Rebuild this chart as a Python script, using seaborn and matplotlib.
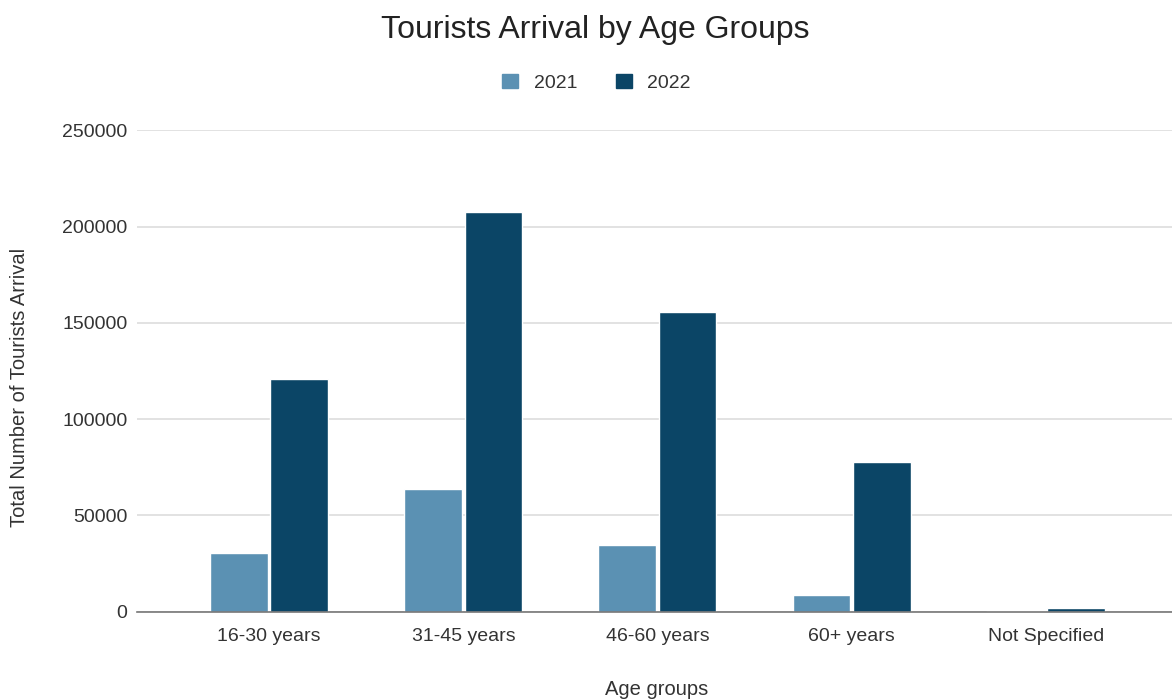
import matplotlib
matplotlib.use("Agg")
import matplotlib.pyplot as plt
import seaborn as sns
import pandas as pd
from matplotlib.patches import Patch

categories = ["16-30 years", "31-45 years", "46-60 years", "60+ years", "Not Specified"]
values_2021 = [30600, 63800, 34800, 8800, 500]
values_2022 = [120900, 207600, 155800, 77900, 2000]
years = ["2021", "2022"]
colors = ["#5b91b3", "#0b4566"]

df = pd.DataFrame({
    "Age groups": categories * 2,
    "value": values_2021 + values_2022,
    "year": [years[0]] * len(categories) + [years[1]] * len(categories),
})

sns.set_theme(style="white")
plt.rcParams["font.family"] = ["Liberation Sans", "DejaVu Sans"]

fig = plt.figure(figsize=(11.72, 7.0), dpi=100)
ax = fig.add_axes([0.117, 0.126, 0.883, 0.688])

sns.barplot(data=df, x="Age groups", y="value", hue="year", palette=colors,
            width=0.62, gap=0.04, ax=ax, legend=False, saturation=1)

ax.set_xlim(-0.68, 4.65)
ax.set_ylim(0, 250000)
ax.set_yticks([0, 50000, 100000, 150000, 200000, 250000])
ax.set_yticklabels(["0", "50000", "100000", "150000", "200000", "250000"])
ax.yaxis.grid(True, color="#dddddd", linewidth=1.2)
ax.set_axisbelow(True)
for s in ["top", "right", "left"]:
    ax.spines[s].set_visible(False)
ax.spines["bottom"].set_color("#777777")
ax.spines["bottom"].set_linewidth(1.2)
ax.tick_params(axis="both", length=0, labelsize=14, colors="#333333")
ax.tick_params(axis="x", pad=12)
ax.tick_params(axis="y", pad=7)

ax.set_xlabel("Age groups", fontsize=14.5, color="#333333")
ax.set_ylabel("Total Number of Tourists Arrival", fontsize=14.5, color="#333333")
ax.xaxis.set_label_coords(0.502, -0.142)
ax.yaxis.set_label_coords(-0.104, 0.465)

fig.text(0.508, 0.957, "Tourists Arrival by Age Groups", ha="center", va="center",
         fontsize=23, color="#222222")

handles = [Patch(facecolor=c, edgecolor=c, label=y) for c, y in zip(colors, years)]
fig.legend(handles=handles, loc="center", bbox_to_anchor=(0.509, 0.882), ncol=2,
           frameon=False, fontsize=14, handlelength=0.8, handleheight=0.8,
           columnspacing=2.0, handletextpad=0.8, labelcolor="#333333")

fig.savefig("out.png", dpi=100, facecolor="white")
